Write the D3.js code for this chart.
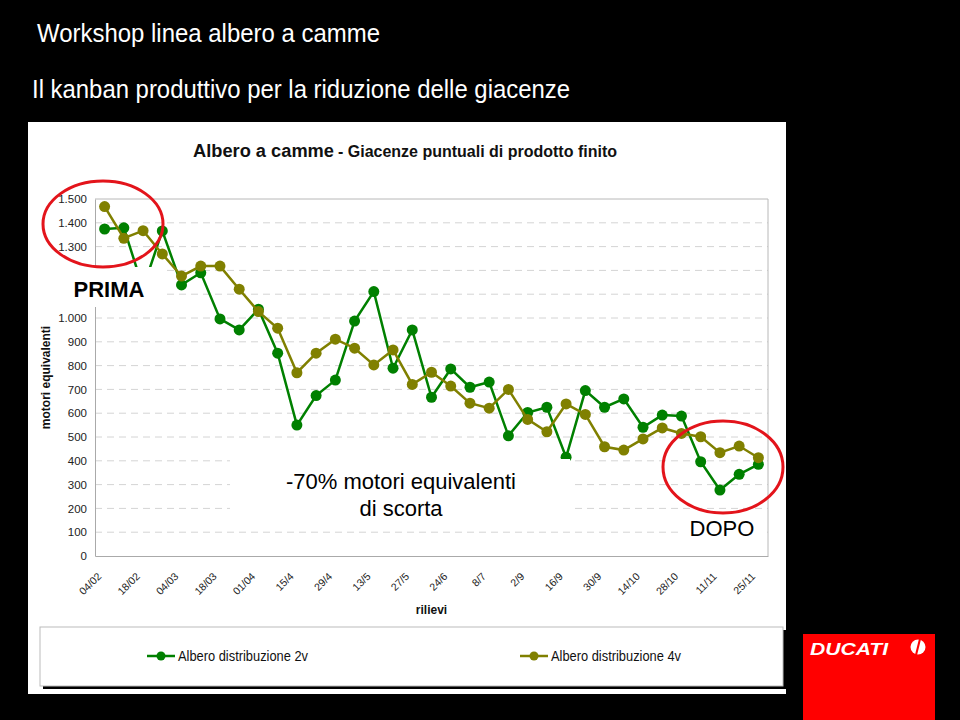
<!DOCTYPE html>
<html>
<head>
<meta charset="utf-8">
<script src="https://cdn.jsdelivr.net/npm/d3@7"></script>
<style>
  html, body { margin: 0; padding: 0; background: #000; }
  svg { display: block; }
  .tick text { font-family: "Liberation Sans", Arial, sans-serif; }
</style>
</head>
<body>
<svg id="chart" width="960" height="720"></svg>
<script>
// Date dei rilievi: one label every second survey point
var tickLabels = ["04/02", "18/02", "04/03", "18/03", "01/04", "15/4", "29/4", "13/5", "27/5",
                  "24/6", "8/7", "2/9", "16/9", "30/9", "14/10", "28/10", "11/11", "25/11"];

var serie2v = [1374, 1379, 1125, 1366, 1139, 1190, 996, 950, 1037, 852, 550, 674, 739, 987, 1111, 789, 950, 667,
               786, 709, 731, 505, 603, 625, 415, 695, 625, 660, 541, 592, 588, 396, 277, 343, 385];
var serie4v = [1468, 1335, 1367, 1269, 1176, 1218, 1218, 1121, 1027, 957, 770, 852, 911, 873, 803, 866, 721, 772,
               714, 642, 621, 700, 574, 522, 639, 595, 459, 445, 492, 538, 515, 501, 434, 462, 413];

var seriesNames = ["Albero distribuzione 2v", "Albero distribuzione 4v"];
var seriesColors = ["#008000", "#808000"];
var yTicks = [0, 100, 200, 300, 400, 500, 600, 700, 800, 900, 1000, 1100, 1200, 1300, 1400, 1500];

var svg = d3.select("#chart");
var narrow = "'Liberation Sans Narrow', 'Arial Narrow', 'Liberation Sans', Arial, sans-serif";
var plain = "'Liberation Sans', Arial, sans-serif";

// plot area
var plot = { left: 95, right: 768, top: 199, bottom: 556 };

var x = d3.scalePoint()
   .domain(d3.range(serie2v.length))
   .range([plot.left, plot.right])
   .padding(0.5);

var y = d3.scaleLinear()
   .domain([0, 1500])
   .range([plot.bottom, plot.top]);

var it = d3.formatLocale({ decimal: ",", thousands: ".", grouping: [3], currency: ["", "€"] });
var fmt = it.format(",d");

// slide header
svg.append("text")
   .attr("x", 37).attr("y", 42)
   .attr("fill", "#fff")
   .attr("font-family", narrow).attr("font-size", 25)
   .attr("textLength", 343).attr("lengthAdjust", "spacingAndGlyphs")
   .text("Workshop linea albero a camme");

svg.append("text")
   .attr("x", 32).attr("y", 98)
   .attr("fill", "#fff")
   .attr("font-family", narrow).attr("font-size", 25)
   .attr("textLength", 538).attr("lengthAdjust", "spacingAndGlyphs")
   .text("Il kanban produttivo per la riduzione delle giacenze");

// white chart panel
svg.append("rect")
   .attr("x", 28).attr("y", 122)
   .attr("width", 758).attr("height", 572)
   .attr("fill", "#fff");

// chart title
var title = svg.append("text")
   .attr("y", 157)
   .attr("fill", "#111")
   .attr("font-family", narrow).attr("font-weight", "bold");
title.append("tspan")
   .attr("x", 193).attr("font-size", 18)
   .attr("textLength", 141).attr("lengthAdjust", "spacingAndGlyphs")
   .text("Albero a camme");
title.append("tspan")
   .attr("x", 338).attr("font-size", 16)
   .attr("textLength", 279).attr("lengthAdjust", "spacingAndGlyphs")
   .text("- Giacenze puntuali di prodotto finito");

// gridlines (dashed), top border solid
svg.append("g")
   .selectAll("line")
   .data(yTicks.filter(function(d) { return d > 0 && d < 1500; }))
   .join("line")
   .attr("x1", plot.left).attr("x2", plot.right)
   .attr("y1", function(d) { return y(d); })
   .attr("y2", function(d) { return y(d); })
   .attr("stroke", "#d4d4d4")
   .attr("stroke-dasharray", "7,5");

svg.append("line")
   .attr("x1", plot.left).attr("x2", plot.right)
   .attr("y1", y(1500)).attr("y2", y(1500))
   .attr("stroke", "#b8b8b8");
svg.append("line")
   .attr("x1", plot.right).attr("x2", plot.right)
   .attr("y1", plot.top).attr("y2", plot.bottom)
   .attr("stroke", "#b8b8b8");

// axes (1.100 sits under the PRIMA box in the slide, so it is left blank)
var yAxis = svg.append("g")
   .attr("transform", "translate(" + plot.left + ",0)")
   .call(d3.axisLeft(y).tickValues(yTicks)
      .tickFormat(function(d) { return d === 1100 ? "" : fmt(d); })
      .tickSize(0).tickPadding(8));
yAxis.select(".domain").attr("stroke", "#aaa");
yAxis.selectAll("text").attr("font-size", 11.5).attr("fill", "#222");

var xAxis = svg.append("g")
   .attr("transform", "translate(0," + plot.bottom + ")")
   .call(d3.axisBottom(x)
      .tickValues(d3.range(0, serie2v.length, 2))
      .tickFormat(function(i) { return tickLabels[i / 2]; })
      .tickSize(0));
xAxis.select(".domain").attr("stroke", "#aaa");
xAxis.selectAll("text")
   .attr("y", 0).attr("dy", 0).attr("x", 0)
   .attr("transform", "translate(-3,21) rotate(-45)")
   .attr("text-anchor", "end")
   .attr("font-size", 10.5)
   .attr("fill", "#222");

// axis titles
svg.append("text")
   .attr("transform", "translate(50," + ((plot.top + plot.bottom) / 2) + ") rotate(-90)")
   .attr("text-anchor", "middle")
   .attr("font-family", plain).attr("font-size", 12).attr("font-weight", "bold")
   .attr("fill", "#111")
   .text("motori equivalenti");

svg.append("text")
   .attr("x", (plot.left + plot.right) / 2).attr("y", 614)
   .attr("text-anchor", "middle")
   .attr("font-family", plain).attr("font-size", 12).attr("font-weight", "bold")
   .attr("fill", "#111")
   .text("rilievi");

// the two series
var line = d3.line()
   .x(function(d, i) { return x(i); })
   .y(function(d) { return y(d); });

[serie2v, serie4v].forEach(function(values, k) {
   var g = svg.append("g");
   g.append("path")
      .datum(values)
      .attr("d", line)
      .attr("fill", "none")
      .attr("stroke", seriesColors[k])
      .attr("stroke-width", 2.5);
   g.selectAll("circle")
      .data(values)
      .join("circle")
      .attr("cx", function(d, i) { return x(i); })
      .attr("cy", function(d) { return y(d); })
      .attr("r", 5.5)
      .attr("fill", seriesColors[k]);
});

// annotation boxes pasted over the chart
function label(box, lines, size, weight, x0, y0, lh) {
   svg.append("rect")
      .attr("x", box[0]).attr("y", box[1])
      .attr("width", box[2]).attr("height", box[3])
      .attr("fill", "#fff");
   var t = svg.append("text")
      .attr("font-family", plain).attr("font-size", size).attr("font-weight", weight)
      .attr("text-anchor", "middle").attr("fill", "#000");
   lines.forEach(function(s, i) {
      t.append("tspan").attr("x", x0).attr("y", y0 + i * lh).text(s);
   });
}

label([55, 267, 110, 40], ["PRIMA"], 22, "bold", 109, 297, 0);
label([230, 459, 340, 63], ["-70% motori equivalenti", "di scorta"], 22, "normal", 401, 489, 27);
label([680, 516, 84, 24], ["DOPO"], 22, "normal", 722, 536, 0);

// red circles
svg.append("ellipse")
   .attr("cx", 103).attr("cy", 224).attr("rx", 60).attr("ry", 43)
   .attr("fill", "none").attr("stroke", "#e3141b").attr("stroke-width", 3);
svg.append("ellipse")
   .attr("cx", 723).attr("cy", 467).attr("rx", 60).attr("ry", 46)
   .attr("fill", "none").attr("stroke", "#e3141b").attr("stroke-width", 3);

// legend box
svg.append("rect")
   .attr("x", 43).attr("y", 630).attr("width", 743).attr("height", 59)
   .attr("fill", "#000");
svg.append("rect")
   .attr("x", 40).attr("y", 627).attr("width", 743).attr("height", 59)
   .attr("fill", "#fff").attr("stroke", "#bbb");

var legendX = [147, 520];
seriesNames.forEach(function(name, k) {
   var g = svg.append("g").attr("transform", "translate(" + legendX[k] + ",656)");
   g.append("line").attr("x1", 0).attr("x2", 28)
      .attr("stroke", seriesColors[k]).attr("stroke-width", 2.5);
   g.append("circle").attr("cx", 14).attr("r", 4.5).attr("fill", seriesColors[k]);
   g.append("text")
      .attr("x", 31).attr("y", 5)
      .attr("font-family", narrow).attr("font-size", 14)
      .attr("textLength", 130).attr("lengthAdjust", "spacingAndGlyphs")
      .attr("fill", "#111")
      .text(name);
});

// Ducati badge
svg.append("rect")
   .attr("x", 803).attr("y", 634).attr("width", 132).attr("height", 86)
   .attr("fill", "#ff0000");
svg.append("text")
   .attr("x", 810).attr("y", 655)
   .attr("font-family", plain).attr("font-size", 17)
   .attr("font-weight", "bold").attr("font-style", "italic")
   .attr("textLength", 78).attr("lengthAdjust", "spacingAndGlyphs")
   .attr("fill", "#fff")
   .text("DUCATI");
svg.append("circle").attr("cx", 918).attr("cy", 647).attr("r", 7.5).attr("fill", "#fff");
svg.append("line")
   .attr("x1", 916).attr("y1", 655).attr("x2", 920).attr("y2", 639)
   .attr("stroke", "#ff0000").attr("stroke-width", 2);
</script>
</body>
</html>
